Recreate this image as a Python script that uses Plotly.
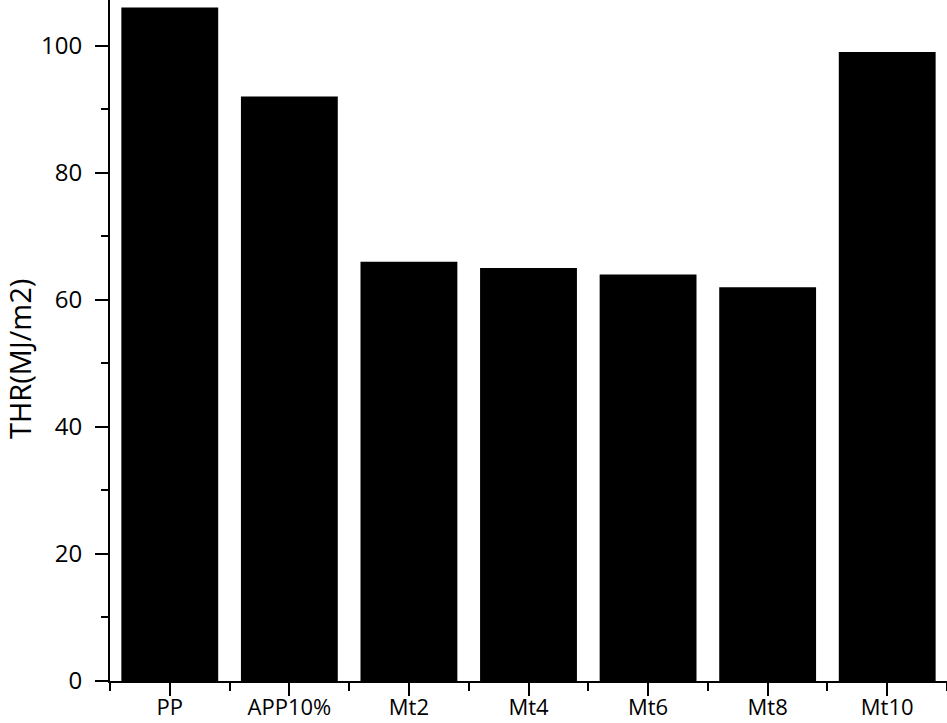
import plotly.graph_objects as go

categories = ["PP", "APP10%", "Mt2", "Mt4", "Mt6", "Mt8", "Mt10"]
thr_values = [106, 92, 66, 65, 64, 62, 99]
y_tick_values = [0, 20, 40, 60, 80, 100]

positions = list(range(len(categories)))
boundaries = [p - 0.5 for p in positions] + [positions[-1] + 0.5]

FONT = "Open Sans"

fig = go.Figure()
fig.add_trace(go.Bar(
    x=positions,
    y=thr_values,
    marker=dict(color="black", line=dict(width=0)),
    hoverinfo="skip",
))

fig.update_layout(
    template="simple_white",
    width=947, height=723,
    margin=dict(l=110, r=0, t=0, b=42, autoexpand=False),
    paper_bgcolor="white", plot_bgcolor="white",
    bargap=0.19,
    showlegend=False,
    font=dict(family=FONT, color="black", size=22),
)

fig.update_xaxes(
    automargin=False,
    range=[-0.5, len(categories) - 0.5],
    tickmode="array", tickvals=positions, ticktext=categories,
    ticks="outside", ticklen=13, tickwidth=2, tickcolor="black",
    minor=dict(tickmode="array", tickvals=boundaries, ticks="outside",
               ticklen=8, tickwidth=2, tickcolor="black"),
    showline=True, linewidth=2, linecolor="black", mirror=False,
    showgrid=False, zeroline=False,
    tickfont=dict(family=FONT, size=22, color="black"),
    ticklabelstandoff=-7,
)

fig.update_yaxes(
    automargin=False,
    range=[0, 107.2],
    tickmode="array", tickvals=y_tick_values,
    ticks="outside", ticklen=13, tickwidth=2, tickcolor="black",
    minor=dict(tickmode="linear", dtick=10, tick0=0, ticks="outside", ticklen=7,
               tickwidth=2, tickcolor="black"),
    showline=True, linewidth=2, linecolor="black", mirror=False,
    showgrid=False, zeroline=False,
    tickfont=dict(family=FONT, size=24, color="black"),
    ticklabelstandoff=8,
)

fig.add_annotation(
    text="THR(MJ/m2)", textangle=-90,
    xref="paper", yref="paper",
    x=(19 - 110) / 837, y=(681 - 359) / 681,
    xanchor="center", yanchor="middle",
    showarrow=False,
    font=dict(family=FONT, size=29, color="black"),
)

fig.write_html(
    "out.html",
    config={"displayModeBar": False, "staticPlot": True},
    post_script="document.body.style.margin='0';document.body.style.overflow='hidden';",
)
